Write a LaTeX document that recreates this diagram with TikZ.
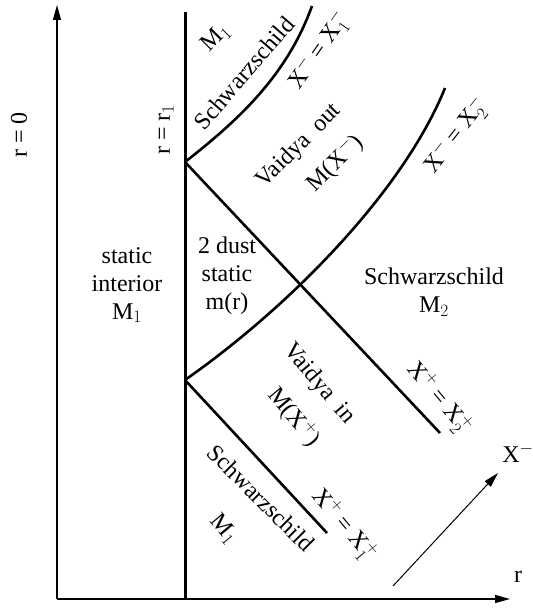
\documentclass[tikz,border=0pt]{standalone}
\usepackage{fontspec}
\setmainfont{Liberation Serif}
\usetikzlibrary{arrows.meta}

\begin{document}
\begin{tikzpicture}[x=1pt, y=1pt, line join=round,
  font=\fontsize{24}{28}\selectfont,
  axis/.style={line width=1.2pt, -{Triangle[length=15pt, width=8pt]}},
  shell/.style={line width=2.6pt},
  every node/.style={inner sep=0pt}]
\useasboundingbox (0,0) rectangle (532,609);
\coordinate (O) at (57,10);
\coordinate (T) at (57,604);
\coordinate (R) at (510,10);
\coordinate (P) at (185,10);
\coordinate (Q) at (185,597);
\coordinate (A) at (185,447);
\coordinate (B) at (185,229);
\coordinate (E) at (312,603);
\coordinate (F) at (445,521);
\coordinate (G) at (440,176);
\coordinate (H) at (327,76);
\coordinate (S) at (393,23);
\coordinate (U) at (498,136);
\draw[axis] (O) -- (T);
\draw[axis] (O) -- (R);
\draw[axis, line width=1pt] (S) -- (U);
\draw[line width=3pt] (P) -- (Q);
\draw[shell] (A) .. controls (244,493) and (288,537) .. (E);
\draw[shell] (B) .. controls (291.5,303.6) and (403.8,419) .. (F);
\draw[shell] (A) -- (G);
\draw[shell] (B) -- (H);
\node[rotate=90] (rzero) at (19,474) {r = 0};
\node[rotate=90] (rone) at (166,479) {r = r$_1$};
\node[align=center] (interior) at (127,324) {static\\interior\\M$_1$};
\node[align=center] (dust) at (227,333) {2 dust\\static\\m(r)};
\node[rotate=45] (mtop) at (216,571) {M$_1$};
\node[rotate=49] (schwtop) at (244,536) {Schwarzschild};
\node[rotate=55] (xone) at (319,558) {X$^-$ = X$^-_1$};
\node[rotate=45] (vout) at (299,463) {Vaidya\ \ out};
\node[rotate=45] (mout) at (335,446) {M(X$^-$)};
\node[rotate=52] (xtwo) at (456,473) {X$^-$ = X$^-_2$};
\node[align=center] (schwright) at (434,317) {Schwarzschild\\M$_2$};
\node[rotate=-50] (vin) at (319,225) {Vaidya\ \ in};
\node[rotate=-50] (min) at (294,192) {M(X$^+$)};
\node[rotate=-50] (xtwoplus) at (439,211) {X$^+$ = X$^+_2$};
\node[rotate=-45] (schwbot) at (261,111) {Schwarzschild};
\node[rotate=-50] (mbot) at (224,80) {M$_1$};
\node[rotate=-50] (xoneplus) at (344,84) {X$^+$ = X$^+_1$};
\node (xminus) at (518,156) {X$^-$};
\node (raxis) at (518,32) {r};
\end{tikzpicture}
\end{document}
